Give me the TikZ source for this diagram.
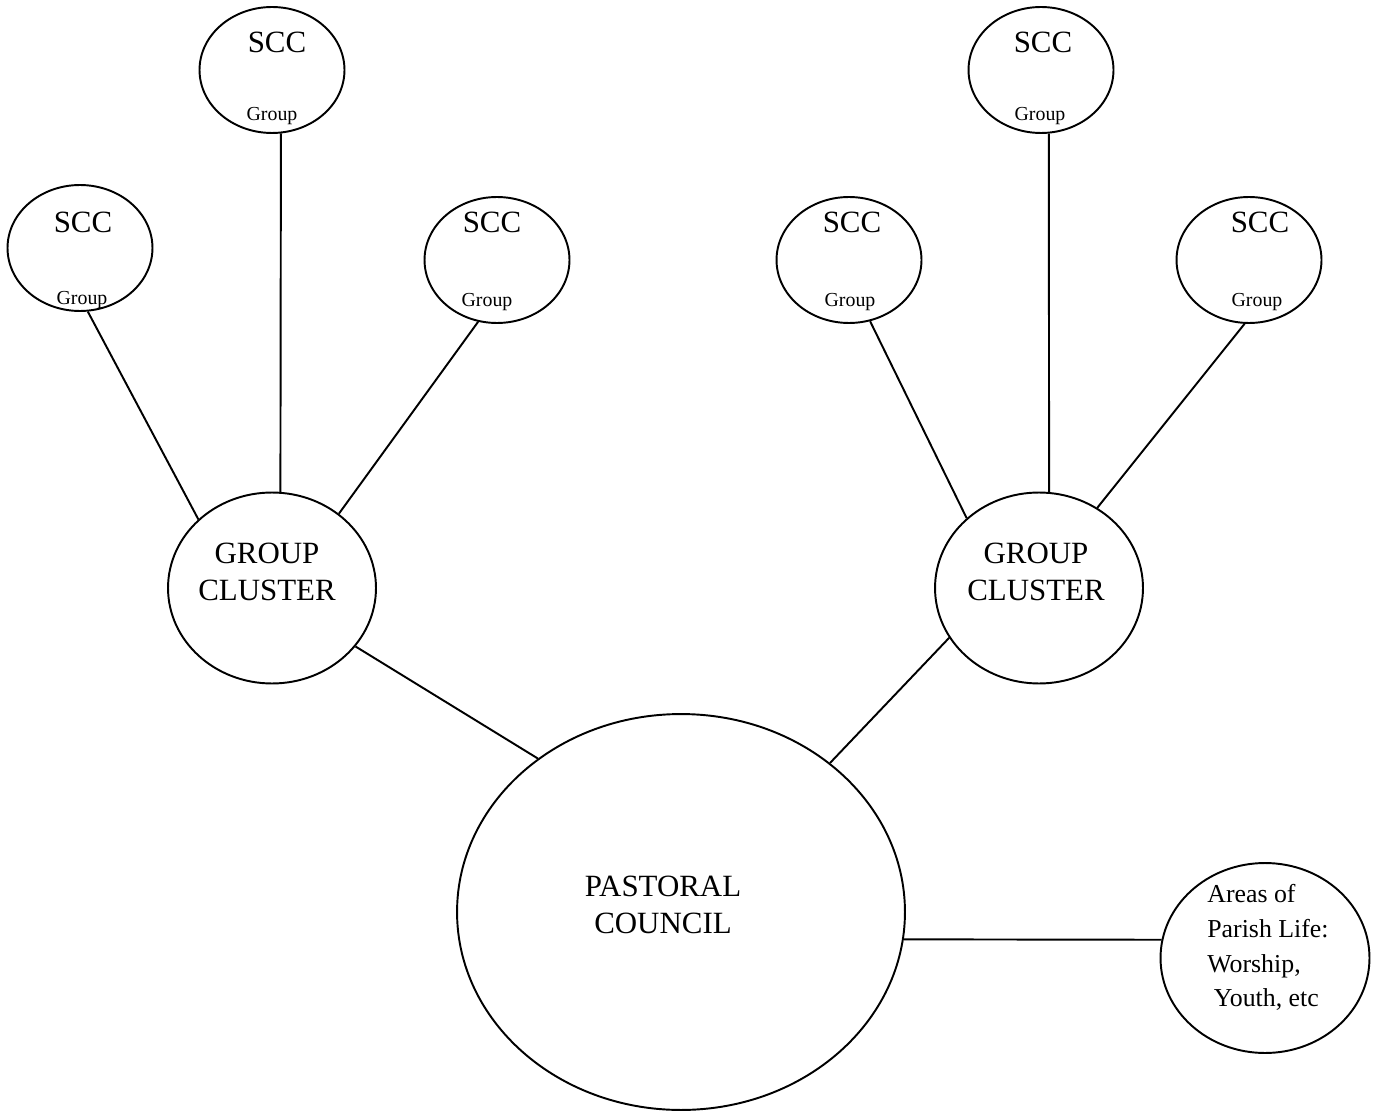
\documentclass[tikz,border=0pt]{standalone}
\usepackage{fontspec}
\setmainfont{Liberation Serif}
\usetikzlibrary{shapes.geometric}
\begin{document}
\begin{tikzpicture}[x=0.02cm,y=-0.02cm,
    big/.style={font=\fontsize{17.6}{21.5}\selectfont,inner sep=0pt,align=center},
    sccname/.style={font=\fontsize{17.6}{21.5}\selectfont,inner sep=0pt,anchor=base},
    grp/.style={font=\fontsize{11.3}{13}\selectfont,inner sep=0pt,anchor=base}]
    \useasboundingbox (0,0) rectangle (1378,1114);
    \begin{scope}[every node/.style={ellipse,draw,line width=1.1pt,inner sep=0pt},
        scc/.style={minimum width=2.9cm,minimum height=2.52cm}]
      \node (sa)[scc] at (80,248) {};
      \node (sb)[scc] at (272,70) {};
      \node (sc)[scc] at (497,260) {};
      \node (sd)[scc] at (849,260) {};
      \node (se)[scc] at (1041,70) {};
      \node (sf)[scc] at (1249,260) {};
      \node (gl)[minimum width=4.16cm,minimum height=3.82cm] at (272,588) {};
      \node (gr)[minimum width=4.16cm,minimum height=3.82cm] at (1039,588) {};
      \node (pc)[minimum width=8.96cm,minimum height=7.92cm] at (681,912) {};
      \node (ar)[minimum width=4.18cm,minimum height=3.8cm] at (1265,958) {};
    \end{scope}
    % labels of the small circles
    \node (sa-t)[sccname] at (83,233) {SCC};
    \node (sa-g)[grp] at (82,305) {Group};
    \node (sb-t)[sccname] at (277,53) {SCC};
    \node (sb-g)[grp] at (272,121) {Group};
    \node (sc-t)[sccname] at (492,233) {SCC};
    \node (sc-g)[grp] at (487,307) {Group};
    \node (sd-t)[sccname] at (852,233) {SCC};
    \node (sd-g)[grp] at (850,307) {Group};
    \node (se-t)[sccname] at (1043,53) {SCC};
    \node (se-g)[grp] at (1040,121) {Group};
    \node (sf-t)[sccname] at (1260,233) {SCC};
    \node (sf-g)[grp] at (1257,307) {Group};
    % big circles
    \node (gl-t)[big] at (267,572) {GROUP\\CLUSTER};
    \node (gr-t)[big] at (1036,572) {GROUP\\CLUSTER};
    \node (pc-t)[big] at (663,905) {PASTORAL\\COUNCIL};
    \node (ar-t)[font=\fontsize{14.7}{19.8}\selectfont,inner sep=0pt,align=left,anchor=north west]
      at (1207,884) {Areas of\\Parish Life:\\Worship,\\~Youth, etc};
    \begin{scope}[every edge/.style={draw=black,line width=1.1pt}]
      \path (sa.-83) edge (gl.137.5)
            (sb.-82.6) edge (gl.85.2)
            (sc.253) edge (gl.48.7)
            (sd.-71.8) edge (gr.136.3)
            (se.-83.6) edge (gr.84)
            (sf.-94.6) edge (gr.54.6)
            (gl.-35.6) edge (pc.133.8)
            (gr.209.1) edge (pc.45.8)
            (pc.-7.1) edge (ar.170.3);
    \end{scope}
\end{tikzpicture}
\end{document}
